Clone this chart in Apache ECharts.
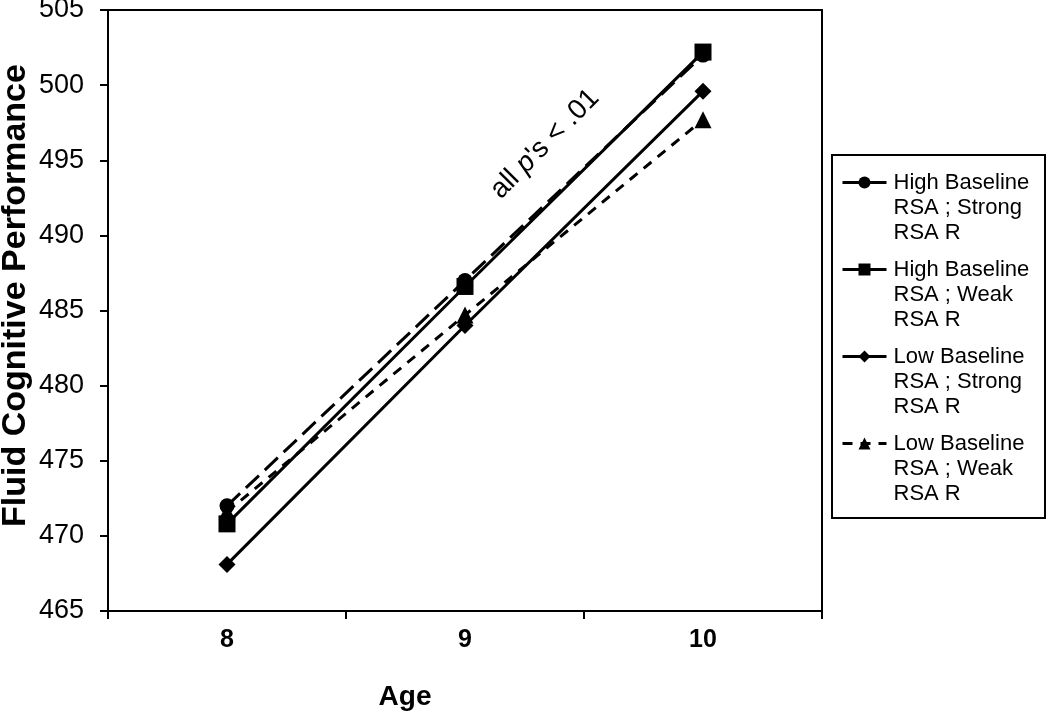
<!DOCTYPE html>
<html>
<head>
<meta charset="utf-8">
<script src="https://cdn.jsdelivr.net/npm/echarts@6/dist/echarts.min.js"></script>
<style>
html,body{margin:0;padding:0;background:#fff;}
#chart{width:1050px;height:722px;}
</style>
</head>
<body>
<div id="chart"></div>
<script>
// ---- data ----
var ages = ['8', '9', '10'];
var seriesNames = [
  'High Baseline\nRSA ; Strong\nRSA R',
  'High Baseline\nRSA ; Weak\nRSA R',
  'Low Baseline\nRSA ; Strong\nRSA R',
  'Low Baseline\nRSA ; Weak\nRSA R'
];
var highStrong = [472.0, 487.0, 502.0];
var highWeak   = [470.8, 486.6, 502.2];
var lowStrong  = [468.1, 484.0, 499.6];
var lowWeak    = [471.6, 484.7, 497.7];
var yTicks = { min: 465, max: 505, step: 5 };

var FONT = '"Liberation Sans", Arial, sans-serif';
var chart = echarts.init(document.getElementById('chart'));

function lineSeries(name, data, symbol, size, dash, z) {
  return {
    name: name,
    type: 'line',
    data: data,
    symbol: symbol,
    symbolSize: size,
    z: z,
    lineStyle: { color: '#000', width: 3, type: dash },
    itemStyle: { color: '#000' },
    emphasis: { disabled: true },
    animation: false
  };
}

chart.setOption({
  backgroundColor: '#fff',
  animation: false,
  grid: {
    left: 108, right: 228, top: 10, bottom: 111,
    containLabel: false, outerBoundsMode: 'none',
    show: true, borderColor: '#000', borderWidth: 2
  },
  xAxis: {
    type: 'category',
    data: ages,
    boundaryGap: true,
    name: 'Age',
    nameLocation: 'middle',
    nameGap: 72,
    nameMoveOverlap: false,
    nameTextStyle: { fontFamily: FONT, fontSize: 28, fontWeight: 'bold', color: '#000', padding: [0, 120, 0, 0] },
    axisLine: { lineStyle: { color: '#000', width: 2 } },
    axisTick: { show: true, length: 8, lineStyle: { color: '#000', width: 2 } },
    axisLabel: { margin: 17, fontFamily: FONT, fontSize: 25, fontWeight: 'bold', color: '#000' },
    splitLine: { show: false }
  },
  yAxis: {
    type: 'value',
    min: yTicks.min,
    max: yTicks.max,
    interval: yTicks.step,
    name: 'Fluid Cognitive Performance',
    nameLocation: 'middle',
    nameGap: 75,
    nameRotate: 90,
    nameMoveOverlap: false,
    nameTextStyle: { fontFamily: FONT, fontSize: 34, fontWeight: 'bold', color: '#000', padding: [0, 0, 0, 30] },
    axisLine: { show: true, lineStyle: { color: '#000', width: 2 } },
    axisTick: { show: true, length: 8, lineStyle: { color: '#000', width: 2 } },
    axisLabel: { margin: 24, fontFamily: FONT, fontSize: 27, color: '#000' },
    splitLine: { show: false }
  },
  legend: {
    orient: 'vertical',
    left: 836,
    top: 115,
    itemWidth: 44,
    itemHeight: 15,
    itemGap: -38,
    selectedMode: false,
    data: seriesNames,
    formatter: function (n) { return '\n\n' + n; },
    lineStyle: { width: 3 },
    textStyle: { fontFamily: FONT, fontSize: 22, lineHeight: 25, color: '#000', padding: [0, 0, 0, 2] }
  },
  graphic: [
    {
      type: 'rect',
      shape: { x: 832, y: 155, width: 213, height: 363 },
      style: { fill: 'none', stroke: '#000', lineWidth: 2 },
      silent: true
    },
    {
      type: 'text',
      x: 545,
      y: 144,
      rotation: 0.79,
      silent: true,
      style: {
        text: '{a|all }{i|p}{a|\'s < .01}',
        align: 'center',
        verticalAlign: 'middle',
        rich: {
          a: { fontFamily: FONT, fontSize: 28, fill: '#000' },
          i: { fontFamily: FONT, fontSize: 28, fontStyle: 'italic', fill: '#000' }
        }
      }
    }
  ],
  series: [
    lineSeries(seriesNames[0], highStrong, 'circle', 15, [18, 8], 3),
    lineSeries(seriesNames[1], highWeak, 'rect', 17, 'solid', 4),
    lineSeries(seriesNames[2], lowStrong, 'diamond', 17, 'solid', 3),
    lineSeries(seriesNames[3], lowWeak, 'triangle', 17, [10, 8], 2)
  ]
});
</script>
</body>
</html>
